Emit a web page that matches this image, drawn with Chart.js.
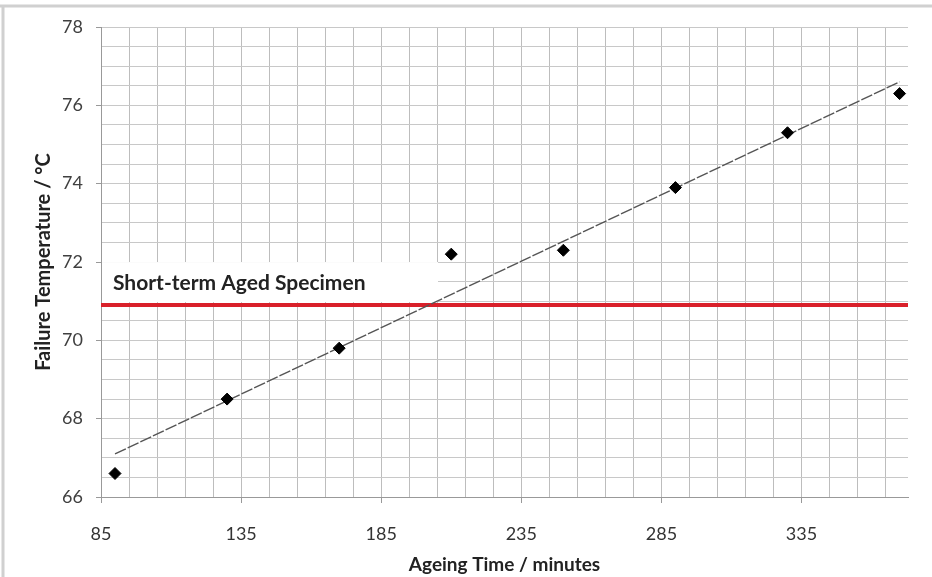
<!DOCTYPE html>
<html>
<head>
<meta charset="utf-8">
<script src="https://cdn.jsdelivr.net/npm/chart.js@4/dist/chart.umd.min.js"></script>
<style>
  html, body { margin: 0; padding: 0; background: #fff; }
  #wrap { position: relative; width: 932px; height: 577px; }
</style>
</head>
<body>
<div id="wrap"><canvas id="chart" width="932" height="577"></canvas></div>
<script>
// data
const ageingTime = [90, 130, 170, 210, 250, 290, 330, 370];
const failureTemp = [66.6, 68.5, 69.8, 72.2, 72.3, 73.9, 75.3, 76.3];
const trendX = [90, 370];
const trendY = [67.1, 76.6];
const shortTermTemp = 70.9;
const shortTermLabel = 'Short-term Aged Specimen';
const xMin = 85, xMax = 373, xStep = 10, xLabelStep = 50;
const yMin = 66, yMax = 78, yStep = 0.5, yLabelStep = 2;

const FONT = 'Lato, "Open Sans", sans-serif';

// white box + text above the red line, and the outer frame
const annotate = {
    id: 'annotate',
    beforeDraw(chart) {
        const c = chart.ctx;
        c.save();
        c.strokeStyle = '#d0d0d0';
        c.lineWidth = 3;
        c.beginPath();
        c.moveTo(0, 6); c.lineTo(932, 6);
        c.moveTo(3, 6); c.lineTo(3, 577);
        c.stroke();
        c.restore();
    },
    beforeDatasetsDraw(chart) {
        const c = chart.ctx;
        const x = chart.scales.x, y = chart.scales.y;
        const yLine = y.getPixelForValue(shortTermTemp);
        c.save();
        c.fillStyle = '#ffffff';
        c.fillRect(x.left + 1, yLine - 43, 336, 40);
        c.font = 'bold 21px ' + FONT;
        c.fillStyle = '#222';
        c.textBaseline = 'middle';
        c.fillText(shortTermLabel, x.left + 12, yLine - 22);
        c.restore();
    }
};

new Chart(document.getElementById('chart'), {
    type: 'scatter',
    data: {
        datasets: [
            {
                label: 'Short-term',
                type: 'line',
                data: [{x: xMin, y: shortTermTemp}, {x: xMax, y: shortTermTemp}],
                borderColor: '#d9202a',
                borderWidth: 4,
                pointRadius: 0,
                order: 3
            },
            {
                label: 'Trend',
                type: 'line',
                data: trendX.map((v, i) => ({x: v, y: trendY[i]})),
                borderColor: '#555',
                borderWidth: 1.4,
                borderDash: [12, 2],
                pointRadius: 0,
                order: 2
            },
            {
                label: 'Failure temperature',
                data: ageingTime.map((v, i) => ({x: v, y: failureTemp[i]})),
                pointStyle: 'rectRot',
                pointRadius: 6,
                backgroundColor: '#000',
                borderColor: '#000',
                order: 1
            }
        ]
    },
    options: {
        responsive: false,
        animation: false,
        layout: { padding: { left: 0, top: 27, right: 24, bottom: 0 } },
        plugins: { legend: { display: false }, tooltip: { enabled: false } },
        scales: {
            x: {
                type: 'linear',
                min: xMin,
                max: xMax,
                afterBuildTicks(scale) {
                    const t = [];
                    for (let v = xMin; v < xMax; v += xStep) t.push({value: v});
                    scale.ticks = t;
                },
                afterFit(scale) { scale.height = 80; },
                ticks: {
                    autoSkip: false,
                    maxRotation: 0,
                    padding: 20,
                    color: '#333',
                    font: { family: FONT, size: 18 },
                    callback: v => ((v - xMin) % xLabelStep === 0 ? v : '')
                },
                grid: {
                    color: '#bdbdbd',
                    tickLength: 6,
                    tickColor: ctx => ((ctx.tick.value - xMin) % xLabelStep === 0 ? '#999' : 'rgba(0,0,0,0)')
                },
                border: { color: '#999', width: 1 },
                title: {
                    display: true,
                    text: 'Ageing Time / minutes',
                    color: '#222',
                    font: { family: FONT, size: 19, weight: 'bold' },
                    padding: { top: 0, bottom: 1 }
                }
            },
            y: {
                min: yMin,
                max: yMax,
                afterFit(scale) { scale.width = 101; },
                ticks: {
                    stepSize: yStep,
                    autoSkip: false,
                    padding: 13,
                    color: '#404040',
                    font: { family: FONT, size: 18 },
                    callback: v => (Math.abs((v - yMin) % yLabelStep) < 1e-9 ? v : '')
                },
                grid: {
                    color: '#c8c8c8',
                    tickLength: 5,
                    tickColor: ctx => (Math.abs((ctx.tick.value - yMin) % yLabelStep) < 1e-9 ? '#999' : 'rgba(0,0,0,0)')
                },
                border: { color: '#999', width: 1 },
                title: {
                    display: true,
                    text: 'Failure Temperature / °C',
                    color: '#222',
                    font: { family: FONT, size: 20, weight: 'bold' },
                    padding: { top: 32, bottom: 0 }
                }
            }
        }
    },
    plugins: [annotate]
});
</script>
</body>
</html>
